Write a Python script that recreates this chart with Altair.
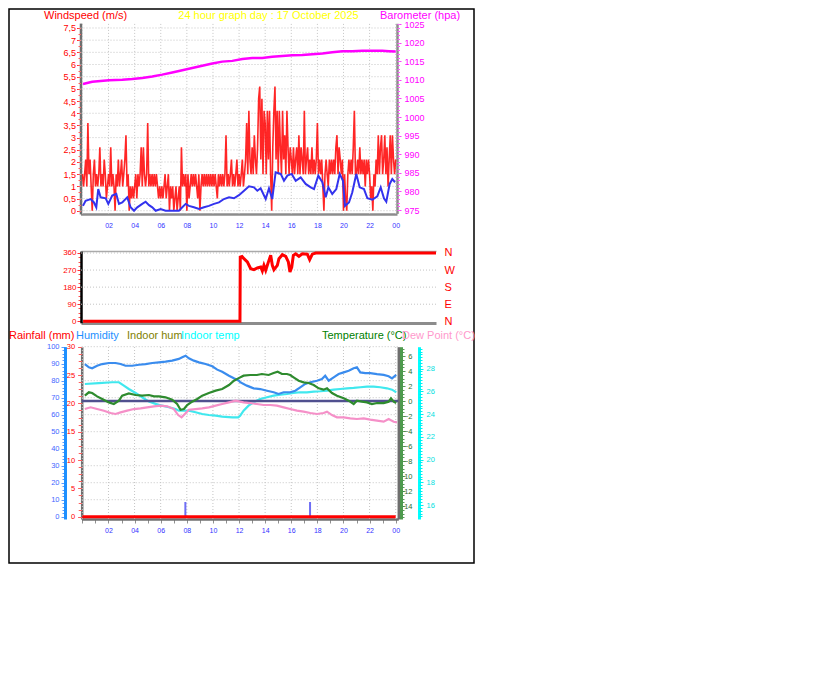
import altair as alt
import pandas as pd

FONT = "Liberation Sans"
W, H = 465, 554

# ---------------- tick values ----------------
hour_ticks = list(range(0, 25))
hour_grid = list(range(0, 25, 2))
ws_ticks = [0, 0.5, 1, 1.5, 2, 2.5, 3, 3.5, 4, 4.5, 5, 5.5, 6, 6.5, 7, 7.5]
baro_ticks = [975, 980, 985, 990, 995, 1000, 1005, 1010, 1015, 1020, 1025]
dir_ticks = [0, 90, 180, 270, 360]
dir_grid = [90, 180, 270, 360]
rain_ticks = [0, 5, 10, 15, 20, 25, 30]
hum_ticks = [0, 10, 20, 30, 40, 50, 60, 70, 80, 90, 100]
hum_grid = [10, 20, 30, 40, 50, 60, 70, 80, 90, 100]
temp_ticks = [-14, -12, -10, -8, -6, -4, -2, 0, 2, 4, 6]
itemp_ticks = [16, 18, 20, 22, 24, 26, 28, 30]

# ---------------- panel 1: wind gust (5-minute samples, m/s) ----------------
gust_00_06 = [
    1.5, 1.0, 1.5, 2.1, 1.0, 3.6, 1.5, 2.1, 1.0, 0.0, 1.5, 2.1,
    1.0, 1.5, 1.0, 1.5, 2.6, 1.0, 1.5, 1.0, 2.1, 1.5, 0.5, 1.0,
    1.5, 1.0, 2.6, 1.0, 1.5, 1.0, 0.0, 1.5, 1.0, 2.1, 1.0, 1.5,
    2.1, 1.0, 1.5, 2.1, 3.1, 1.0, 1.5, 0.0, 1.0, 0.5, 1.0, 0.5,
    1.0, 1.5, 0.5, 1.5, 1.0, 1.5, 2.6, 1.0, 2.6, 1.5, 1.0, 1.5,
    3.6, 1.0, 1.5, 1.0, 1.5, 1.0, 1.5, 1.0, 1.5, 1.0, 0.5, 1.0]
gust_06_12 = [
    0.5, 1.0, 0.5, 1.0, 1.5, 0.5, 1.0, 1.5, 0.0, 1.0, 0.5, 1.0,
    0.0, 0.5, 1.0, 0.0, 0.5, 1.0, 0.0, 2.6, 1.0, 1.5, 1.0, 1.5,
    0.0, 1.5, 0.5, 1.0, 1.5, 1.0, 1.5, 1.0, 1.5, 1.0, 0.5, 1.5,
    0.0, 1.0, 1.5, 1.0, 1.5, 1.0, 1.5, 1.0, 1.5, 1.0, 1.5, 1.0,
    1.5, 1.0, 1.5, 1.0, 0.5, 1.5, 1.0, 1.5, 1.0, 1.5, 1.0, 1.5,
    3.1, 1.0, 1.5, 1.0, 1.5, 2.1, 1.0, 1.5, 1.0, 1.5, 2.1, 1.0]
gust_12_18 = [
    1.5, 1.0, 1.5, 2.1, 1.0, 1.5, 2.1, 3.6, 1.5, 4.1, 2.1, 1.5,
    2.6, 1.5, 3.1, 2.1, 1.5, 2.6, 4.6, 5.1, 2.1, 4.6, 1.5, 4.1,
    3.6, 1.5, 4.1, 2.1, 4.1, 1.5, 0.0, 2.6, 4.1, 5.1, 2.1, 4.1,
    1.5, 4.1, 2.6, 1.5, 4.1, 2.1, 3.1, 1.5, 4.1, 2.6, 1.5, 2.6,
    2.1, 1.5, 2.6, 1.5, 2.1, 2.6, 1.5, 3.1, 1.5, 2.6, 2.1, 1.5,
    4.1, 1.5, 2.1, 2.6, 1.5, 2.1, 1.5, 2.6, 1.5, 2.1, 1.5, 2.1]
gust_18_24 = [
    3.6, 1.5, 2.1, 1.5, 2.1, 1.0, 0.0, 1.5, 2.1, 1.5, 1.0, 2.1,
    1.5, 2.1, 1.5, 2.1, 1.5, 2.6, 3.1, 1.5, 2.6, 2.1, 1.5, 2.1,
    0.0, 1.5, 0.5, 0.0, 1.5, 2.1, 1.5, 2.1, 1.5, 2.6, 4.1, 1.5,
    1.5, 2.1, 1.5, 2.6, 1.5, 2.1, 1.5, 2.1, 1.0, 2.1, 1.5, 2.1,
    1.5, 0.5, 1.0, 0.0, 1.5, 1.0, 2.1, 1.5, 3.1, 1.5, 2.6, 3.1,
    1.5, 2.1, 3.1, 1.5, 2.6, 1.0, 2.1, 3.1, 1.5, 3.1, 2.1, 1.5,
    2.1]

# average wind (hour, m/s)
avg_wind = [
    (0.04, 0.20), (0.24, 0.41), (0.63, 0.48), (0.88, 0.34), (1.06, 0.14), (1.21, 0.89),
    (1.39, 0.55), (1.78, 0.51), (1.98, 0.28), (2.28, 0.62), (2.59, 0.69), (2.80, 0.28),
    (3.05, 0.34), (3.43, 0.55), (3.69, 0.14), (3.95, 0.00), (4.20, 0.14), (4.58, 0.28),
    (4.84, 0.37), (5.10, 0.23), (5.35, 0.14), (5.61, 0.00), (5.99, 0.07), (6.37, 0.00),
    (6.88, 0.00), (7.39, 0.00), (7.65, 0.14), (7.91, 0.28), (8.16, 0.20), (8.54, 0.14),
    (8.93, 0.07), (9.31, 0.14), (9.69, 0.20), (10.08, 0.28), (10.46, 0.34), (10.84, 0.48),
    (11.23, 0.55), (11.61, 0.51), (11.99, 0.64), (12.38, 0.82), (12.76, 1.00), (13.14, 0.96),
    (13.40, 0.82), (13.65, 0.92), (14.04, 0.48), (14.29, 0.92), (14.54, 0.48), (14.80, 1.58),
    (15.19, 1.51), (15.44, 1.23), (15.70, 1.44), (16.03, 1.51), (16.34, 1.23), (16.72, 1.37),
    (17.10, 1.10), (17.49, 0.96), (17.74, 0.89), (18.07, 1.44), (18.38, 1.17), (18.64, 0.55),
    (18.84, 0.96), (19.14, 0.69), (19.45, 0.89), (19.71, 1.51), (19.96, 1.23), (20.11, 0.20),
    (20.42, 0.34), (20.67, 0.75), (20.98, 1.51), (21.24, 0.96), (21.57, 0.89), (21.83, 0.51),
    (22.21, 0.45), (22.59, 0.59), (22.85, 0.96), (23.10, 0.51), (23.28, 0.37), (23.54, 1.10),
    (23.74, 1.30), (23.95, 1.17)]

# barometer (hour, hPa)
barometer = [
    (0.04, 1008.9), (0.75, 1009.5), (2.03, 1009.9), (3.05, 1010.0), (3.82, 1010.2),
    (4.58, 1010.5), (5.35, 1010.9), (6.11, 1011.4), (6.88, 1012.0), (7.65, 1012.6),
    (8.41, 1013.2), (9.18, 1013.8), (9.95, 1014.4), (10.71, 1014.9), (11.48, 1015.1),
    (12.25, 1015.6), (13.01, 1015.9), (13.78, 1015.9), (14.54, 1016.2), (15.31, 1016.4),
    (16.08, 1016.6), (16.84, 1016.7), (17.61, 1016.9), (18.38, 1017.1), (19.14, 1017.4),
    (19.91, 1017.7), (20.67, 1017.7), (21.44, 1017.8), (22.20, 1017.8), (22.97, 1017.8),
    (23.49, 1017.7), (24.00, 1017.6)]

# ---------------- panel 2: wind direction (hour, degrees) ----------------
wind_dir = [
    (0.00, 0), (10.67, 0), (10.69, 339), (10.81, 342), (10.94, 330), (11.17, 313),
    (11.40, 277), (11.62, 272), (11.85, 281), (12.08, 286), (12.19, 265), (12.30, 295),
    (12.42, 269), (12.60, 312), (12.76, 348), (12.87, 295), (12.98, 272), (13.21, 295),
    (13.32, 330), (13.55, 351), (13.78, 342), (13.96, 313), (14.07, 260), (14.19, 286),
    (14.30, 348), (14.46, 356), (14.68, 342), (14.91, 356), (15.25, 354), (15.41, 325),
    (15.59, 354), (15.82, 360), (24.00, 360)]

# ---------------- panel 3 ----------------
rain_hours = [0, 6, 12, 18, 24]
rain_mm = [0, 0, 0, 0, 0]
rain_event_hours = [7.89, 17.44]
rain_event_mm = [2.6, 2.6]

humidity = [
    (0.19, 89.8), (0.50, 87.9), (0.75, 87.3), (1.13, 88.8), (1.52, 89.8), (2.03, 90.4),
    (2.54, 90.4), (2.93, 89.8), (3.31, 88.8), (3.82, 88.8), (4.33, 89.4), (4.84, 89.8),
    (5.35, 90.4), (5.86, 90.8), (6.37, 91.2), (6.88, 91.8), (7.39, 92.8), (7.65, 93.8),
    (7.91, 94.7), (8.16, 93.2), (8.54, 91.8), (8.93, 90.8), (9.44, 89.8), (9.95, 88.5),
    (10.33, 86.5), (10.71, 85.3), (11.23, 82.9), (11.61, 81.4), (11.99, 80.0), (12.09, 79.1),
    (12.60, 77.1), (13.12, 75.5), (13.62, 75.1), (14.14, 74.1), (14.65, 73.2), (15.03, 72.2),
    (15.42, 73.2), (15.92, 73.2), (16.31, 74.1), (16.69, 76.1), (17.07, 78.1), (17.46, 79.1),
    (17.97, 80.0), (18.35, 81.0), (18.60, 82.9), (18.87, 80.0), (19.25, 82.0), (19.63, 83.9),
    (20.02, 84.9), (20.40, 85.9), (20.78, 87.3), (21.03, 87.9), (21.29, 84.9), (21.67, 84.5),
    (22.05, 84.5), (22.57, 83.9), (23.08, 83.4), (23.46, 82.6), (23.72, 81.4), (24.04, 83.4)]

temperature = [
    (0.19, 0.71), (0.50, 1.16), (0.75, 1.07), (1.13, 0.62), (1.52, 0.27), (2.03, -0.18),
    (2.41, -0.40), (2.80, 0.05), (3.05, 0.71), (3.56, 1.02), (4.08, 0.80), (4.58, 0.71),
    (5.10, 0.80), (5.48, 0.62), (5.86, 0.62), (6.37, 0.49), (6.88, 0.18), (7.26, -0.40),
    (7.52, -1.16), (7.78, -1.07), (8.03, -0.53), (8.41, -0.09), (8.80, 0.27), (9.18, 0.71),
    (9.69, 1.07), (10.21, 1.38), (10.71, 1.60), (11.23, 2.13), (11.61, 2.71), (11.94, 3.02),
    (12.35, 3.38), (12.86, 3.47), (13.37, 3.47), (13.75, 3.60), (14.27, 3.47), (14.65, 3.73),
    (14.96, 3.91), (15.29, 3.60), (15.67, 3.60), (15.92, 3.47), (16.18, 3.16), (16.57, 2.71),
    (16.95, 2.49), (17.33, 2.40), (17.72, 2.13), (18.10, 1.69), (18.48, 1.51), (18.74, 1.69),
    (19.12, 1.07), (19.50, 0.71), (20.02, 0.36), (20.40, 0.04), (20.78, -0.40), (21.03, 0.04),
    (21.42, -0.09), (21.80, -0.18), (22.18, -0.40), (22.57, -0.27), (23.08, -0.27), (23.46, -0.09),
    (23.64, 0.36), (23.85, -0.09), (24.04, -0.27)]

dew_point = [
    (0.19, -1.07), (0.63, -0.84), (1.13, -1.07), (1.65, -1.29), (2.16, -1.60), (2.54, -1.73),
    (2.93, -1.51), (3.43, -1.29), (3.95, -1.07), (4.46, -0.98), (4.97, -0.84), (5.48, -0.71),
    (5.99, -0.62), (6.50, -0.71), (7.01, -1.07), (7.34, -1.87), (7.60, -2.18), (7.85, -1.73),
    (8.16, -1.16), (8.67, -1.07), (9.18, -0.98), (9.69, -0.84), (10.21, -0.62), (10.71, -0.40),
    (11.23, -0.18), (11.74, 0.04), (12.35, -0.18), (12.86, -0.27), (13.37, -0.40), (13.88, -0.53),
    (14.39, -0.53), (14.90, -0.62), (15.42, -0.84), (15.92, -1.07), (16.44, -1.29), (16.95, -1.42),
    (17.46, -1.60), (17.97, -1.73), (18.48, -1.60), (18.74, -1.42), (19.12, -1.87), (19.50, -2.18),
    (20.02, -2.18), (20.52, -2.31), (21.03, -2.40), (21.55, -2.31), (22.05, -2.49), (22.57, -2.62),
    (23.08, -2.76), (23.46, -2.40), (23.85, -2.76), (24.10, -2.84)]

indoor_temp = [
    (0.19, 26.65), (1.26, 26.72), (2.28, 26.80), (2.80, 26.80), (3.18, 26.50), (3.56, 26.21),
    (4.08, 25.86), (4.58, 25.48), (5.10, 25.10), (5.61, 24.90), (6.11, 24.74), (6.63, 24.60),
    (7.14, 24.45), (7.39, 24.30), (7.78, 24.30), (8.16, 24.30), (8.67, 24.16), (9.18, 24.01),
    (9.69, 23.92), (10.21, 23.86), (10.71, 23.78), (11.48, 23.72), (11.94, 23.72), (12.09, 23.86),
    (12.35, 24.30), (12.73, 24.74), (13.12, 25.04), (13.62, 25.33), (14.14, 25.48), (14.65, 25.62),
    (15.16, 25.71), (15.67, 25.77), (16.18, 25.86), (16.69, 25.92), (17.20, 25.92), (17.72, 25.98),
    (18.22, 26.01), (18.74, 26.06), (19.25, 26.15), (19.75, 26.21), (20.27, 26.27), (20.78, 26.30),
    (21.29, 26.36), (21.80, 26.41), (22.31, 26.41), (22.82, 26.36), (23.33, 26.27), (23.72, 26.15),
    (24.04, 25.92)]

# ---------------- titles ----------------
title_texts = ["Windspeed (m/s)", "24 hour graph day : 17 October 2025", "Barometer (hpa)",
               "Rainfall (mm)", "Humidity", "Indoor hum", "Indoor temp",
               "Temperature (°C)", "Dew Point (°C)"]
title_colors = ["#FF0000", "#FFFF00", "#FF00FF", "#FF0000", "#1E90FF", "#808000",
                "#00FFFF", "#008000", "#FF99CC"]
title_pos = [(35, 6.5, "left"), (259.5, 6.5, "center"), (371, 6.5, "left"),
             (0, 327, "left"), (67, 327, "left"), (118, 327, "left"), (172, 327, "left"),
             (313, 327, "left"), (393, 327, "left")]

# ---------------- data frames ----------------
gust = gust_00_06 + gust_06_12 + gust_12_18 + gust_18_24
df_gust = pd.DataFrame({"h": [i / 12 for i in range(len(gust))], "v": gust})
def pdf(p):
    return pd.DataFrame(p, columns=["h", "v"])
df_avg = pdf(avg_wind)
df_baro = pdf(barometer)
df_dir = pdf(wind_dir)
df_hum = pdf(humidity)
df_temp = pdf(temperature)
df_dew = pdf(dew_point)
df_itemp = pdf(indoor_temp)
df_rain = pd.DataFrame({"h": rain_hours, "v": rain_mm})
df_event = pd.DataFrame({"h": rain_event_hours, "v": rain_event_mm})
def vdf(vals):
    return pd.DataFrame({"v": vals})

# ---------------- scales (pixel layout) ----------------
def sc(domain, rng):
    return alt.Scale(domain=domain, range=rng, nice=False, zero=False)

X1d, X2d, X3d = [-0.15, 24.1], [-0.14, 24.0], [-0.05, 24.2]
X1 = sc(X1d, [71.5, 388.0])
X2 = sc(X2d, [72.0, 427.0])
X3 = sc(X3d, [72.7, 389.3])
WSd = [-0.13, 7.7]
WS = sc(WSd, [204.9, 14.1])
BARO = sc([974.1, 1025.2], [204.4, 14.3])
DIR = sc([-8, 370], [313.8, 242.1])
RAIN = sc([-0.4, 30], [510.0, 337.7])
HUMd = [-1.35, 100]
HUM = sc(HUMd, [510.0, 337.7])
TEMP = sc([-15.73, 7.24], [510.0, 337.7])
ITEMP = sc([14.77, 29.93], [510.0, 337.7])

def AX(**kw):
    d = dict(title=None, grid=False, labelOverlap=False, labelFlush=False,
             labelFont=FONT, labelBound=False)
    d.update(kw)
    return alt.Axis(**d)

left = lambda at: -at
right = lambda at: at - W
bottom = lambda at: at - H
top = lambda at: -at

HOUR_EXPR = ("datum.value % 2 == 0 && datum.value > 0 ? (datum.value == 24 ? '00' : "
             "(datum.value < 10 ? '0' + datum.value : '' + datum.value)) : ''")
COMPASS = ("datum.value == 90 ? 'E' : datum.value == 180 ? 'S' : "
           "datum.value == 270 ? 'W' : 'N'")
GRID = dict(color="#C4C4C4", strokeWidth=1, strokeDash=[1, 2])

def minor(df, scale, orient, off, vals, color, size):
    return alt.Chart(df).mark_point(opacity=0, size=1).encode(
        y=alt.Y("v:Q", scale=scale,
                axis=AX(orient=orient, offset=off, values=vals, labels=False,
                        domain=False, tickColor=color, tickSize=size, tickWidth=1)))

layers = []

# ---- panel 1 ----
layers.append(alt.Chart(vdf(ws_ticks)).mark_rule(**GRID).encode(
    y=alt.Y("v:Q", scale=WS, axis=None),
    x=alt.XDatum(X1d[0], scale=X1, axis=None), x2=alt.X2Datum(X1d[1])))
layers.append(alt.Chart(pd.DataFrame({"h": hour_grid})).mark_rule(**GRID).encode(
    x=alt.X("h:Q", scale=X1, axis=None),
    y=alt.YDatum(WSd[0], scale=WS, axis=None), y2=alt.Y2Datum(WSd[1])))
layers.append(alt.Chart(df_baro).mark_line(color="#FF00FF", strokeWidth=2.5).encode(
    x=alt.X("h:Q", scale=X1, axis=None),
    y=alt.Y("v:Q", scale=BARO,
            axis=AX(orient="right", offset=right(388), values=baro_ticks, format="d",
                    domainColor="#8C8C8C", domainWidth=2.5, tickColor="#FF40FF",
                    tickSize=4, labelColor="#FF00FF", labelFontSize=9, labelPadding=3))))
layers.append(minor(df_baro, BARO, "right", right(388), list(range(975, 1026)), "#FF60FF", 2.5))
layers.append(alt.Chart(df_gust).mark_line(color="#FF0000", strokeWidth=1.6, opacity=0.85).encode(
    x=alt.X("h:Q", scale=X1,
            axis=AX(orient="bottom", offset=bottom(205), values=hour_ticks,
                    labelExpr=HOUR_EXPR, domainColor="#8C8C8C", domainWidth=2.5,
                    ticks=False, labelColor="#3333FF", labelFontSize=7, labelPadding=7)),
    y=alt.Y("v:Q", scale=WS,
            axis=AX(orient="left", offset=left(71.5), values=ws_ticks,
                    labelExpr="replace(toString(datum.value), '.', ',')",
                    domainColor="#6E6E6E", domainWidth=2.5, tickColor="#FF3030",
                    tickSize=4, labelColor="#FF0000", labelFontSize=9, labelPadding=1))))
layers.append(minor(df_gust, WS, "left", left(71.5), [i * 0.25 for i in range(31)], "#FF6060", 2.5))
layers.append(alt.Chart(df_avg).mark_line(color="#3333EE", strokeWidth=2).encode(
    x=alt.X("h:Q", scale=X1, axis=None),
    y=alt.Y("v:Q", scale=WS, axis=None)))

# ---- panel 2 ----
layers.append(alt.Chart(vdf(dir_grid)).mark_rule(**GRID).encode(
    y=alt.Y("v:Q", scale=DIR, axis=None),
    x=alt.XDatum(X2d[0], scale=X2, axis=None), x2=alt.X2Datum(X2d[1])))
layers.append(alt.Chart(df_dir).mark_point(opacity=0, size=1).encode(
    x=alt.X("h:Q", scale=X2,
            axis=AX(orient="top", offset=top(242), domainColor="#AAAAAA",
                    domainWidth=1.5, ticks=False, labels=False))))
layers.append(minor(df_dir, DIR, "left", left(72), [i * 22.5 for i in range(17)], "#FF5050", 3))
layers.append(alt.Chart(df_dir).mark_point(opacity=0, size=1).encode(
    y=alt.Y("v:Q", scale=DIR,
            axis=AX(orient="right", offset=right(427), values=dir_ticks,
                    labelExpr=COMPASS, domain=False, ticks=False, labelColor="#FF0000",
                    labelFontSize=11, labelPadding=8, labelAlign="left"))))
layers.append(alt.Chart(df_dir).mark_line(color="#FF0000", strokeWidth=3).encode(
    x=alt.X("h:Q", scale=X2,
            axis=AX(orient="bottom", offset=bottom(314), domainColor="#8C8C8C",
                    domainWidth=3, ticks=False, labels=False)),
    y=alt.Y("v:Q", scale=DIR,
            axis=AX(orient="left", offset=left(72), values=dir_ticks,
                    domainColor="#000000", domainWidth=2.5, tickColor="#FF3030",
                    tickSize=4, labelColor="#FF0000", labelFontSize=8, labelPadding=1))))

# ---- panel 3 ----
layers.append(alt.Chart(vdf(hum_grid)).mark_rule(**GRID).encode(
    y=alt.Y("v:Q", scale=HUM, axis=None),
    x=alt.XDatum(X3d[0], scale=X3, axis=None), x2=alt.X2Datum(X3d[1])))
layers.append(alt.Chart(pd.DataFrame({"h": hour_grid})).mark_rule(**GRID).encode(
    x=alt.X("h:Q", scale=X3, axis=None),
    y=alt.YDatum(HUMd[0], scale=HUM, axis=None), y2=alt.Y2Datum(HUMd[1])))
layers.append(alt.Chart(df_event).mark_rule(color="#6E6EF5", strokeWidth=2).encode(
    x=alt.X("h:Q", scale=X3, axis=None),
    y=alt.Y("v:Q", scale=RAIN, axis=None), y2=alt.Y2Datum(0)))
layers.append(alt.Chart(df_rain).mark_line(color="#FF0000", strokeWidth=3).encode(
    x=alt.X("h:Q", scale=X3,
            axis=AX(orient="bottom", offset=bottom(510), values=hour_ticks,
                    labelExpr=HOUR_EXPR, domainColor="#707070", domainWidth=2.5,
                    tickColor="#909090", tickSize=4, labelColor="#3333FF",
                    labelFontSize=7, labelPadding=3)),
    y=alt.Y("v:Q", scale=RAIN,
            axis=AX(orient="left", offset=left(72.7), values=rain_ticks,
                    domainColor="#6E6E6E", domainWidth=2.5, tickColor="#FF5050",
                    tickSize=4, labelColor="#FF0000", labelFontSize=7.5, labelPadding=3))))
layers.append(minor(df_rain, RAIN, "left", left(72.7), [i * 1.25 for i in range(25)], "#FF6060", 3.5))
layers.append(minor(df_hum, HUM, "left", left(56), list(range(0, 101, 2)), "#5A9CFF", 3))
layers.append(alt.Chart(df_hum).mark_point(opacity=0, size=1).encode(
    y=alt.Y("v:Q", scale=HUM,
            axis=AX(orient="right", offset=right(389.3), domainColor="#6E6E6E",
                    domainWidth=2.5, ticks=False, labels=False))))
layers.append(alt.Chart(df_itemp).mark_line(color="#40E8EE", strokeWidth=2.2).encode(
    x=alt.X("h:Q", scale=X3, axis=None),
    y=alt.Y("v:Q", scale=ITEMP,
            axis=AX(orient="right", offset=right(410), values=itemp_ticks,
                    domainColor="#00FFFF", domainWidth=3, tickColor="#00F0F0",
                    tickSize=4, labelColor="#00E0E0", labelFontSize=7.5, labelPadding=3))))
layers.append(minor(df_itemp, ITEMP, "right", right(410), [15 + i * 0.25 for i in range(60)], "#00F0F0", 3))
layers.append(alt.Chart(vdf([0])).mark_rule(color="#50508F", strokeWidth=2.6).encode(
    y=alt.Y("v:Q", scale=TEMP, axis=None),
    x=alt.XDatum(X3d[0], scale=X3, axis=None), x2=alt.X2Datum(X3d[1])))
layers.append(alt.Chart(df_dew).mark_line(color="#F590C8", strokeWidth=2.2).encode(
    x=alt.X("h:Q", scale=X3, axis=None),
    y=alt.Y("v:Q", scale=TEMP, axis=None)))
layers.append(alt.Chart(df_hum).mark_line(color="#3A8CEE", strokeWidth=2.2).encode(
    x=alt.X("h:Q", scale=X3, axis=None),
    y=alt.Y("v:Q", scale=HUM,
            axis=AX(orient="left", offset=left(56), values=hum_ticks,
                    domainColor="#1E90FF", domainWidth=3, tickColor="#5A9CFF",
                    tickSize=4, labelColor="#4466FF", labelFontSize=7.5, labelPadding=2))))
layers.append(minor(df_temp, TEMP, "right", right(392), [-15.5 + i * 0.5 for i in range(46)], "#5A9A5A", 3))
layers.append(alt.Chart(df_temp).mark_line(color="#2E8B2E", strokeWidth=2.2).encode(
    x=alt.X("h:Q", scale=X3, axis=None),
    y=alt.Y("v:Q", scale=TEMP,
            axis=AX(orient="right", offset=right(392), values=temp_ticks,
                    domainColor="#4E9A4E", domainWidth=3, tickColor="#5A9A5A",
                    tickSize=4, labelColor="#2E6B2E", labelFontSize=7.5,
                    labelPadding=7, labelAlign="right"))))

# ---- titles ----
for txt, col, (tx, ty, al) in zip(title_texts, title_colors, title_pos):
    layers.append(alt.Chart(pd.DataFrame({"label": [txt]})).mark_text(
        font=FONT, fontSize=11, color=col, align=al, baseline="middle").encode(
        x=alt.value(tx), y=alt.value(ty), text="label:N"))

chart = alt.layer(*layers).resolve_scale(
    x="independent", y="independent").resolve_axis(
    x="independent", y="independent").properties(
    width=W, height=H,
    autosize=alt.AutoSizeParams(type="none"),
    padding={"left": 1, "top": 1, "right": 1, "bottom": 1},
    background="white").configure_view(stroke="black", strokeWidth=1.5)

chart.save("out.html", embed_options={"renderer": "svg", "actions": False})
